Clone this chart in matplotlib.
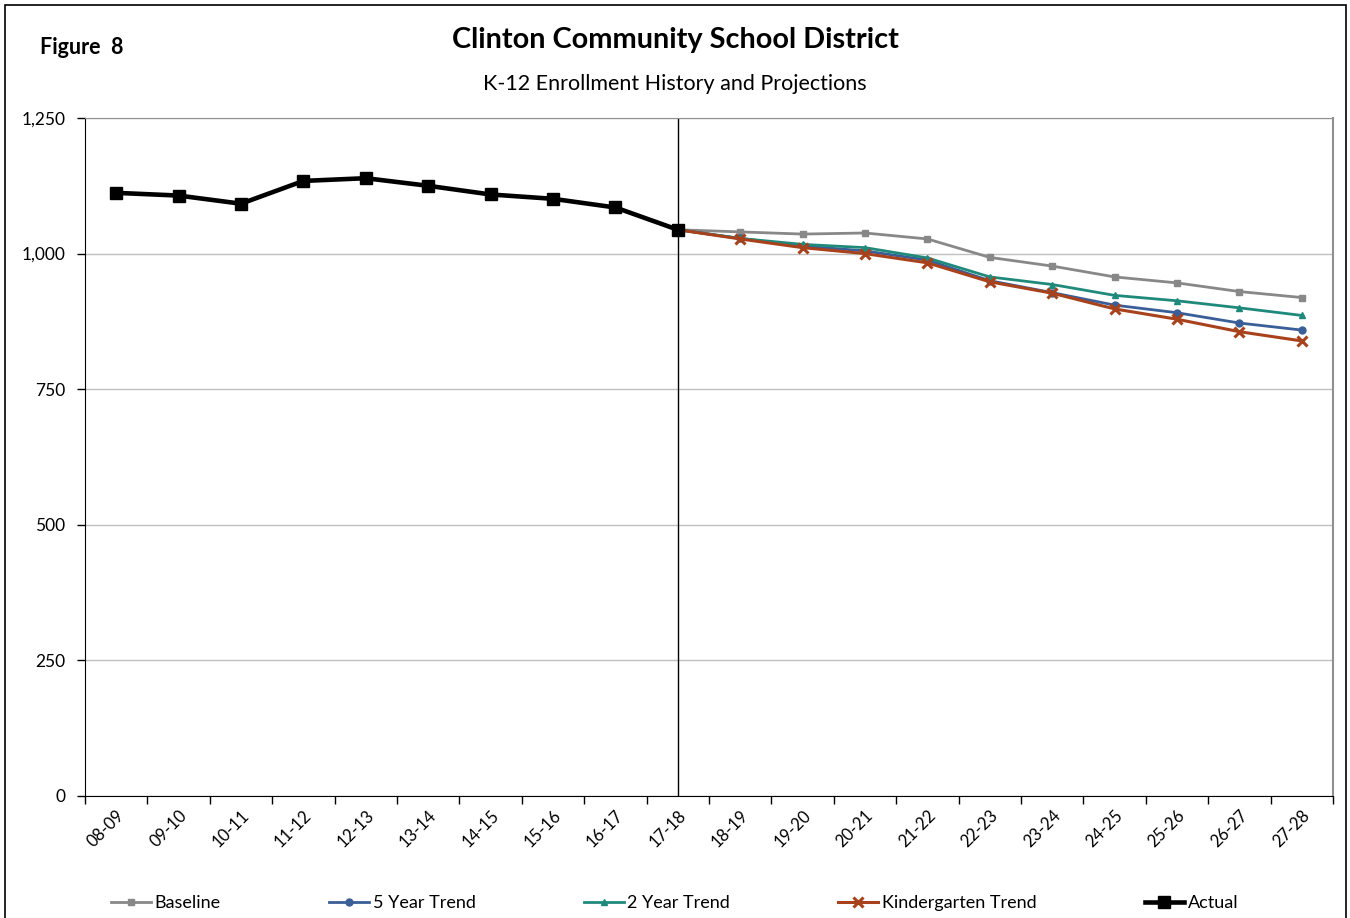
import numpy as np
import matplotlib
matplotlib.use("Agg")
from matplotlib import pyplot as plt
import matplotlib.patches as patches

plt.rcParams['font.family'] = ['Lato', 'DejaVu Sans']

# school years on the category axis
years = ["08-09", "09-10", "10-11", "11-12", "12-13", "13-14", "14-15",
         "15-16", "16-17", "17-18", "18-19", "19-20", "20-21", "21-22",
         "22-23", "23-24", "24-25", "25-26", "26-27", "27-28"]

# actual enrollment 08-09 .. 17-18
actual = [1112, 1107, 1092, 1134, 1139, 1125, 1109, 1101, 1085, 1044]

# projections 17-18 .. 27-28
baseline = [1044, 1040, 1036, 1038, 1027, 993, 977, 957, 946, 930, 919]
five_year = [1044, 1028, 1014, 1005, 988, 950, 928, 905, 891, 872, 859]
two_year = [1044, 1028, 1017, 1011, 992, 957, 943, 923, 913, 900, 886]
kinder = [1044, 1027, 1011, 1000, 983, 948, 927, 898, 879, 856, 839]

fig = plt.figure(figsize=(13.5, 9.18), dpi=100)
ax = fig.add_axes([85/1350, 1-796/918, 1248/1350, 678/918])

x_act = np.arange(len(actual))
x_proj = np.arange(len(actual)-1, len(years))

ax.plot(x_proj, baseline, color='#888888', lw=2, marker='s', ms=5, label='Baseline', zorder=3)
ax.plot(x_proj, five_year, color='#3A5E98', lw=2, marker='o', ms=5, label='5 Year Trend', zorder=4)
ax.plot(x_proj, two_year, color='#1F8A7C', lw=2, marker='^', ms=5, label='2 Year Trend', zorder=5)
ax.plot(x_proj, kinder, color='#A8421C', lw=2.2, marker='x', ms=7, mew=2.2, label='Kindergarten Trend', zorder=6)
ax.plot(x_act, actual, color='black', lw=3.3, marker='s', ms=8, label='Actual', zorder=7)

ax.axvline(len(actual)-1, color='black', lw=1, zorder=2)

ax.set_xlim(-0.5, len(years)-0.5)
ax.set_ylim(0, 1250)
ax.set_yticks([0, 250, 500, 750, 1000, 1250])
ax.set_yticklabels(['{:,}'.format(v) for v in [0, 250, 500, 750, 1000, 1250]], fontsize=12.5)
ax.yaxis.grid(True, color='#c0c0c0', lw=1)
ax.set_axisbelow(True)

ax.set_xticks(np.arange(len(years)))
ax.set_xticklabels(years, rotation=45, ha='right', rotation_mode='anchor', fontsize=12)
ax.set_xticks(np.arange(-0.5, len(years)), minor=True)
ax.tick_params(axis='x', which='major', length=0, pad=8)
ax.tick_params(axis='x', which='minor', length=6, width=1)
ax.tick_params(axis='y', length=6, width=1, pad=8)

ax.spines['left'].set_color('black')
ax.spines['bottom'].set_color('black')
ax.spines['top'].set_color('#909090')
ax.spines['right'].set_color('#909090')
ax.spines['right'].set_linewidth(1.5)

fig.text(0.5, 1-40/918, 'Clinton Community School District', ha='center', va='center',
         fontsize=20.8, fontweight='bold')
fig.text(0.5, 1-84/918, 'K-12 Enrollment History and Projections', ha='center', va='center',
         fontsize=15.5)
fig.text(40/1350, 1-47/918, 'Figure  8', ha='left', va='center', fontsize=15.5, fontweight='bold')

fig.legend(loc='center', bbox_to_anchor=(0.5, 1-903/918), ncol=5, frameon=False,
           fontsize=13, handlelength=2.2, handletextpad=0.2, columnspacing=6.0)

border = patches.Rectangle((5/1350, -0.01), 1341/1350, 1.01-5/918, transform=fig.transFigure,
                           fill=False, ec='black', lw=1.2)
fig.patches.append(border)

fig.savefig('out.png', dpi=100)
